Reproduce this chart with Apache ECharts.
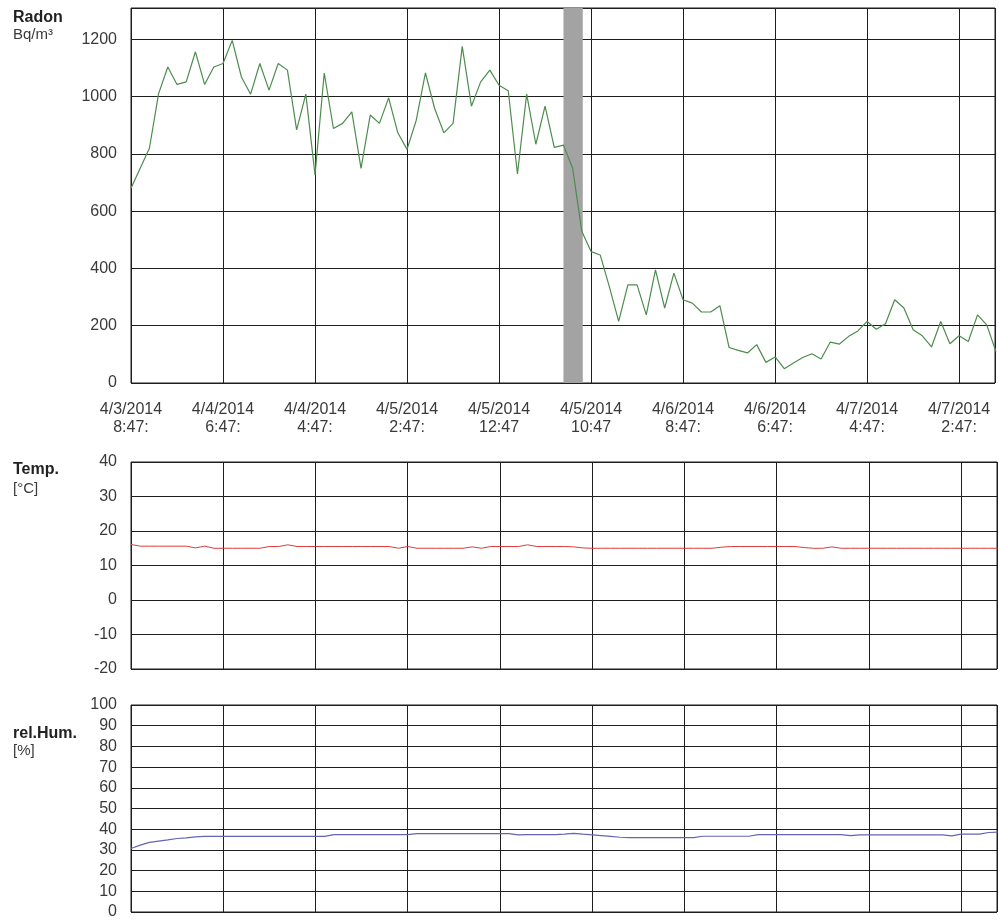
<!DOCTYPE html>
<html>
<head>
<meta charset="utf-8">
<script src="https://cdn.jsdelivr.net/npm/echarts@6/dist/echarts.min.js"></script>
<style>
  html, body { margin: 0; padding: 0; background: #fff; }
  #chart { width: 998px; height: 920px; }
</style>
</head>
<body>
<div id="chart"></div>
<script>
// x ticks every 10 hours
const tickLabels = [
  '4/3/2014\n8:47:', '4/4/2014\n6:47:', '4/4/2014\n4:47:', '4/5/2014\n2:47:', '4/5/2014\n12:47',
  '4/5/2014\n10:47', '4/6/2014\n8:47:', '4/6/2014\n6:47:', '4/7/2014\n4:47:', '4/7/2014\n2:47:'
];

// hourly readings, hour 0 .. 94
const radon = [
  680, 750, 820, 1011, 1104, 1043, 1052, 1157, 1043, 1104,
  1116, 1197, 1069, 1009, 1116, 1023, 1116, 1093, 884, 1009,
  727, 1083, 889, 907, 947, 750, 936, 907, 996, 874,
  816, 918, 1083, 959, 874, 907, 1176, 967, 1052, 1093,
  1040, 1021, 730, 1009, 834, 967, 823, 831, 750, 529,
  459, 447, 335, 215, 343, 343, 238, 395, 262, 384,
  291, 279, 248, 248, 270, 124, 114, 105, 134, 72,
  91, 50, 70, 89, 102, 84, 143, 136, 163, 182,
  215, 188, 207, 291, 262, 186, 165, 126, 215, 137,
  165, 145, 238, 203, 110
];

const temp = [
  16.1, 15.6, 15.6, 15.6, 15.6, 15.6, 15.6, 15.1, 15.6, 15.0,
  15.0, 15.0, 15.0, 15.0, 15.0, 15.5, 15.5, 16.0, 15.5, 15.5,
  15.5, 15.5, 15.5, 15.5, 15.5, 15.5, 15.5, 15.5, 15.5, 15.0,
  15.5, 15.0, 15.0, 15.0, 15.0, 15.0, 15.0, 15.4, 15.0, 15.5,
  15.5, 15.5, 15.5, 16.0, 15.5, 15.5, 15.5, 15.5, 15.4, 15.1,
  15.0, 15.0, 15.0, 15.0, 15.0, 15.0, 15.0, 15.0, 15.0, 15.0,
  15.0, 15.0, 15.0, 15.0, 15.3, 15.5, 15.5, 15.5, 15.5, 15.5,
  15.5, 15.5, 15.5, 15.2, 15.0, 15.0, 15.4, 15.0, 15.0, 15.0,
  15.0, 15.0, 15.0, 15.0, 15.0, 15.0, 15.0, 15.0, 15.0, 15.0,
  15.0, 15.0, 15.0, 15.0, 15.0
];

const humidity = [
  30.7, 32.3, 33.6, 34.2, 34.8, 35.5, 35.8, 36.3, 36.5, 36.5,
  36.5, 36.5, 36.5, 36.5, 36.5, 36.5, 36.5, 36.5, 36.5, 36.5,
  36.5, 36.5, 37.4, 37.4, 37.4, 37.4, 37.4, 37.4, 37.4, 37.4,
  37.4, 37.9, 37.9, 37.9, 37.9, 37.9, 37.9, 37.9, 37.9, 37.9,
  37.9, 37.9, 37.3, 37.4, 37.4, 37.4, 37.4, 37.6, 38.0, 37.6,
  37.3, 36.9, 36.5, 36.1, 35.9, 35.9, 35.9, 35.9, 35.9, 35.9,
  35.9, 35.9, 36.6, 36.6, 36.6, 36.6, 36.6, 36.6, 37.4, 37.4,
  37.4, 37.4, 37.4, 37.4, 37.4, 37.4, 37.4, 37.4, 36.9, 37.3,
  37.3, 37.3, 37.3, 37.3, 37.3, 37.3, 37.3, 37.3, 37.3, 36.8,
  37.6, 37.6, 37.6, 38.4, 38.6
];

// grey marker band (hours)
const band = [47.0, 49.1];

// visible time span in hours
const X_MAX = 93.9;

const FONT = '"Liberation Sans", Arial, sans-serif';
const GRID_LINE = '#1e1e1e';

function pairs(arr) {
  return arr.map((v, i) => [i, v]);
}

function xAxisFor(gridIndex, showLabels) {
  return {
    type: 'value',
    gridIndex: gridIndex,
    min: 0,
    max: X_MAX,
    interval: 10,
    axisLine: { show: false },
    axisTick: { show: false },
    splitLine: { show: true, lineStyle: { color: GRID_LINE, width: 1 } },
    axisLabel: {
      show: showLabels,
      margin: 18,
      fontFamily: FONT,
      fontSize: 16,
      lineHeight: 18,
      color: '#3a3a3a',
      align: 'center',
      formatter: function (v) {
        if (v % 10 !== 0) return '';
        return tickLabels[v / 10] || '';
      }
    }
  };
}

function yAxisFor(gridIndex, min, max, interval) {
  return {
    type: 'value',
    gridIndex: gridIndex,
    min: min,
    max: max,
    interval: interval,
    axisLine: { show: false },
    axisTick: { show: false },
    splitLine: { show: true, lineStyle: { color: GRID_LINE, width: 1 } },
    axisLabel: {
      margin: 14,
      fontFamily: FONT,
      fontSize: 16,
      color: '#3a3a3a',
      formatter: function (v) {
        return (v - min) % interval === 0 ? String(v) : '';
      }
    }
  };
}

function sideLabel(text, top, bold) {
  return {
    type: 'text',
    left: 13,
    top: top,
    style: {
      text: text,
      fontFamily: FONT,
      fontSize: bold ? 16 : 15,
      fontWeight: bold ? 'bold' : 'normal',
      fill: bold ? '#222' : '#3a3a3a'
    }
  };
}

const chart = echarts.init(document.getElementById('chart'));
chart.setOption({
  animation: false,
  backgroundColor: '#fff',
  grid: [
    { left: 131, right: 1, top: 8, height: 375, show: true, borderColor: GRID_LINE, borderWidth: 1 },
    { left: 131, right: 1, top: 462, height: 207, show: true, borderColor: GRID_LINE, borderWidth: 1 },
    { left: 131, right: 1, top: 705, height: 208, show: true, borderColor: GRID_LINE, borderWidth: 1 }
  ],
  xAxis: [xAxisFor(0, true), xAxisFor(1, false), xAxisFor(2, false)],
  yAxis: [
    yAxisFor(0, 0, 1310, 200),
    yAxisFor(1, -20, 40, 10),
    yAxisFor(2, 0, 100, 10)
  ],
  graphic: [
    sideLabel('Radon', 10, true),
    sideLabel('Bq/m³', 27, false),
    sideLabel('Temp.', 462, true),
    sideLabel('[°C]', 481, false),
    sideLabel('rel.Hum.', 726, true),
    sideLabel('[%]', 743, false)
  ],
  series: [
    {
      name: 'Radon',
      type: 'line',
      xAxisIndex: 0,
      yAxisIndex: 0,
      data: pairs(radon),
      showSymbol: false,
      lineStyle: { color: '#4e8c4e', width: 1.2 },
      itemStyle: { color: '#4e8c4e' },
      z: 3,
      markArea: {
        silent: true,
        itemStyle: { color: '#a3a3a3', opacity: 1 },
        data: [[{ xAxis: band[0] }, { xAxis: band[1] }]]
      }
    },
    {
      name: 'Temp.',
      type: 'line',
      xAxisIndex: 1,
      yAxisIndex: 1,
      data: pairs(temp),
      showSymbol: false,
      lineStyle: { color: '#e03a3a', width: 1 },
      itemStyle: { color: '#e03a3a' }
    },
    {
      name: 'rel.Hum.',
      type: 'line',
      xAxisIndex: 2,
      yAxisIndex: 2,
      data: pairs(humidity),
      showSymbol: false,
      lineStyle: { color: '#6464b4', width: 1.2 },
      itemStyle: { color: '#6464b4' }
    }
  ]
});
</script>
</body>
</html>
